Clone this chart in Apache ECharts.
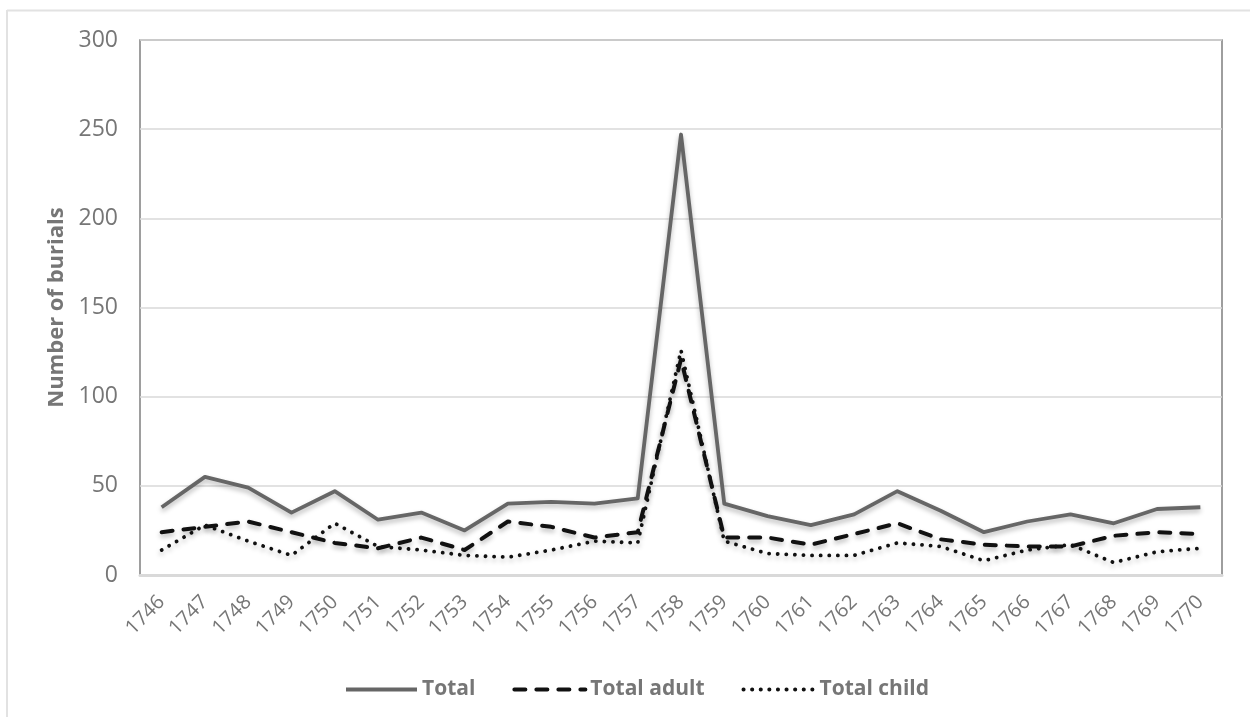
<!DOCTYPE html>
<html>
<head>
<meta charset="utf-8">
<style>
  html, body { margin: 0; padding: 0; background: #ffffff; }
  #chart { width: 1250px; height: 717px; }
</style>
<script src="https://cdn.jsdelivr.net/npm/echarts@6/dist/echarts.min.js"></script>
</head>
<body>
<div id="chart"></div>
<script>
// Burials per year, 1746-1770
const years = ['1746','1747','1748','1749','1750','1751','1752','1753','1754','1755','1756','1757','1758',
               '1759','1760','1761','1762','1763','1764','1765','1766','1767','1768','1769','1770'];
const total = [38, 55, 49, 35, 47, 31, 35, 25, 40, 41, 40, 43, 247, 40, 33, 28, 34, 47, 36, 24, 30, 34, 29, 37, 38];
const totalAdult = [24, 27, 30, 24, 18, 15, 21, 14, 30, 27, 21, 24, 121, 21, 21, 17, 23, 29, 20, 17, 16, 16, 22, 24, 23];
const totalChild = [14, 28, 19, 11, 29, 16, 14, 11, 10, 14, 19, 18, 126, 19, 12, 11, 11, 18, 16, 8, 14, 17, 7, 13, 15];

const FONT = '"Open Sans", "Noto Sans", sans-serif';
const GREY_TEXT = '#767676';
const shadow = { shadowColor: 'rgba(0,0,0,0.28)', shadowBlur: 5, shadowOffsetY: 3 };

const chart = echarts.init(document.getElementById('chart'));
chart.setOption({
  backgroundColor: '#ffffff',
  animation: false,
  graphic: [
    { type: 'line', shape: { x1: 7, y1: 10.5, x2: 1250, y2: 10.5 }, style: { stroke: '#e2e2e2', lineWidth: 2 }, silent: true },
    { type: 'line', shape: { x1: 7, y1: 10, x2: 7, y2: 717 }, style: { stroke: '#e2e2e2', lineWidth: 2 }, silent: true }
  ],
  grid: {
    left: 140, right: 28, top: 40, bottom: 142,
    show: true, borderColor: '#7f7f7f', borderWidth: 1.5, backgroundColor: 'transparent'
  },
  legend: {
    left: 339, top: 674,
    itemWidth: 71, itemHeight: 12, itemGap: 37,
    itemStyle: { opacity: 0 },
    lineStyle: { width: 4 },
    textStyle: { fontFamily: FONT, fontSize: 21, fontWeight: 'bold', color: GREY_TEXT },
    data: ['Total', 'Total adult', 'Total child']
  },
  xAxis: {
    type: 'category',
    data: years,
    boundaryGap: true,
    axisTick: { show: false },
    axisLine: { show: true, lineStyle: { color: '#d9d9d9', width: 3 } },
    axisLabel: { rotate: 45, margin: 24, fontFamily: FONT, fontSize: 20, color: GREY_TEXT }
  },
  yAxis: {
    type: 'value',
    min: 0, max: 300, interval: 50,
    name: 'Number of burials',
    nameLocation: 'middle',
    nameGap: 72,
    nameTextStyle: { fontFamily: FONT, fontSize: 22, fontWeight: 'bold', color: GREY_TEXT },
    axisLine: { show: false },
    axisTick: { show: false },
    axisLabel: { margin: 22, fontFamily: FONT, fontSize: 23, color: GREY_TEXT },
    splitLine: { lineStyle: { color: '#d9d9d9', width: 1.5 } }
  },
  series: [
    {
      name: 'Total', type: 'line', data: total,
      symbol: 'none', z: 3,
      itemStyle: { color: '#666666' },
      lineStyle: Object.assign({ color: '#666666', width: 3.8, join: 'round' }, shadow)
    },
    {
      name: 'Total adult', type: 'line', data: totalAdult,
      symbol: 'none', z: 4,
      itemStyle: { color: '#111111' },
      lineStyle: Object.assign({ color: '#111111', width: 4, type: [11, 11], cap: 'round', join: 'round' }, shadow)
    },
    {
      name: 'Total child', type: 'line', data: totalChild,
      symbol: 'none', z: 5,
      itemStyle: { color: '#111111' },
      lineStyle: Object.assign({ color: '#111111', width: 3.8, type: [0.1, 8.5], cap: 'round', join: 'round' }, shadow)
    }
  ]
});
</script>
</body>
</html>
